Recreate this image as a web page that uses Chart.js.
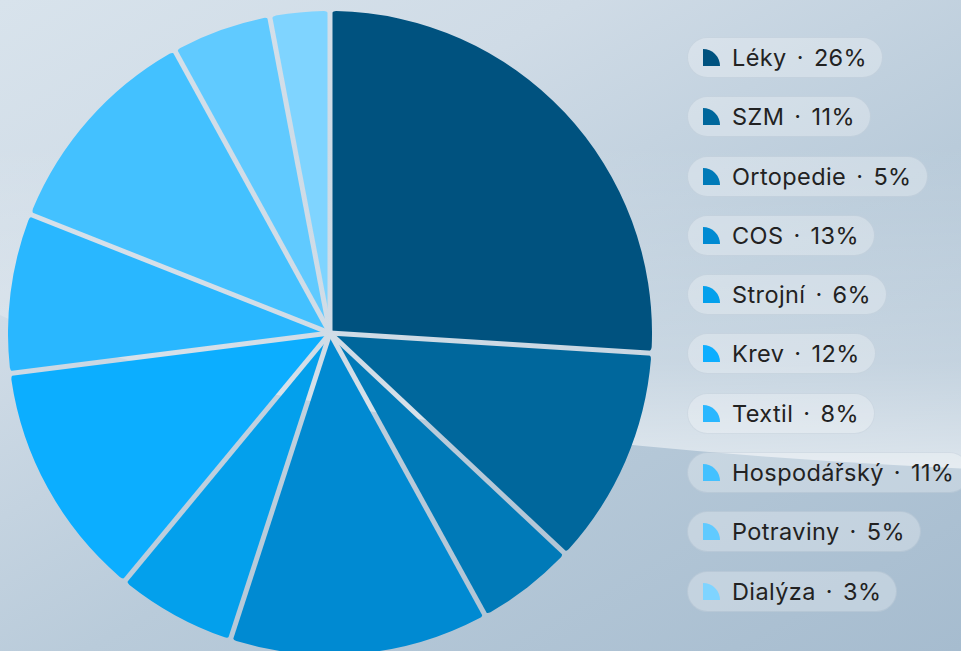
<!DOCTYPE html>
<html>
<head>
<meta charset="utf-8">
<script src="https://cdn.jsdelivr.net/npm/chart.js@4"></script>
<style>
    html, body {
        margin: 0;
        width: 961px;
        height: 651px;
        overflow: hidden;
        font-family: Inter, "Noto Sans", sans-serif;
    }
    body {
        position: relative;
        background: linear-gradient(150deg, #d8e3ec 0%, #cfdbe6 28%, #b9cbda 58%, #a6bccf 100%);
    }
    .wave {
        position: absolute;
        left: -100px;
        top: -36px;
        width: 2800px;
        height: 512px;
        border-radius: 50%;
        background: linear-gradient(180deg, rgba(255,255,255,0) 35%, rgba(255,255,255,0.25) 78%, rgba(255,255,255,0.6) 100%);
    }
    .chart-box {
        position: absolute;
        left: 8px;
        top: 11px;
        width: 644px;
        height: 644px;
    }
    #legend {
        position: absolute;
        left: 687px;
        top: 37px;
        display: flex;
        flex-direction: column;
        align-items: flex-start;
        gap: 18.3px;
    }
    .pill {
        display: flex;
        align-items: center;
        height: 39px;
        padding: 0 15px 0 15px;
        border-radius: 21px;
        background: rgba(255, 255, 255, 0.28);
        border: 1px solid rgba(120, 140, 165, 0.16);
        white-space: nowrap;
        color: #222;
        font-size: 23.5px;
        letter-spacing: 0.4px;
    }
    .pill .icon {
        width: 17px;
        height: 17px;
        border-top-right-radius: 100%;
        margin-right: 12px;
    }
    .pill .dot {
        margin: 0 10px;
    }
</style>
</head>
<body>
<div class="wave"></div>
<div class="chart-box"><canvas id="pieChart"></canvas></div>
<div id="legend"></div>

<script>
const labels = ['Léky', 'SZM', 'Ortopedie', 'COS', 'Strojní', 'Krev', 'Textil', 'Hospodářský', 'Potraviny', 'Dialýza'];
const shares = [26, 11, 5, 13, 6, 12, 8, 11, 5, 3];
const sliceColors = ['#00527f', '#00679c', '#007ab8', '#008ad2', '#03a0ec', '#0caeff', '#29b7ff', '#43c1ff', '#60caff', '#7fd4ff'];

const GAP = 5;

// vyřízne mezery mezi výsečemi (průhledné, je vidět pozadí)
const gapCutter = {
    id: 'gapCutter',
    afterDatasetsDraw(chart) {
        const ctx = chart.ctx;
        const arcs = chart.getDatasetMeta(0).data;
        ctx.save();
        ctx.globalCompositeOperation = 'destination-out';
        ctx.lineWidth = GAP;
        ctx.strokeStyle = '#000';
        arcs.forEach(arc => {
            const r = arc.outerRadius + 4;
            ctx.beginPath();
            ctx.moveTo(arc.x, arc.y);
            ctx.lineTo(arc.x + Math.cos(arc.startAngle) * r, arc.y + Math.sin(arc.startAngle) * r);
            ctx.stroke();
        });
        ctx.restore();
    }
};

const ctx = document.getElementById('pieChart').getContext('2d');
new Chart(ctx, {
    type: 'pie',
    data: {
        labels: labels,
        datasets: [{
            data: shares,
            backgroundColor: sliceColors,
            borderWidth: 0,
            borderRadius: 6
        }]
    },
    options: {
        responsive: true,
        maintainAspectRatio: false,
        animation: false,
        events: [],
        layout: { padding: 0 },
        plugins: {
            legend: { display: false },
            tooltip: { enabled: false }
        }
    },
    plugins: [gapCutter]
});

let html = '';
labels.forEach((l, i) => {
    html += `<div class="pill"><span class="icon" style="background:${sliceColors[i]}"></span>` +
        `<span>${l}</span><span class="dot">·</span><span>${shares[i]}%</span></div>`;
});
document.getElementById('legend').innerHTML = html;
</script>
</body>
</html>
